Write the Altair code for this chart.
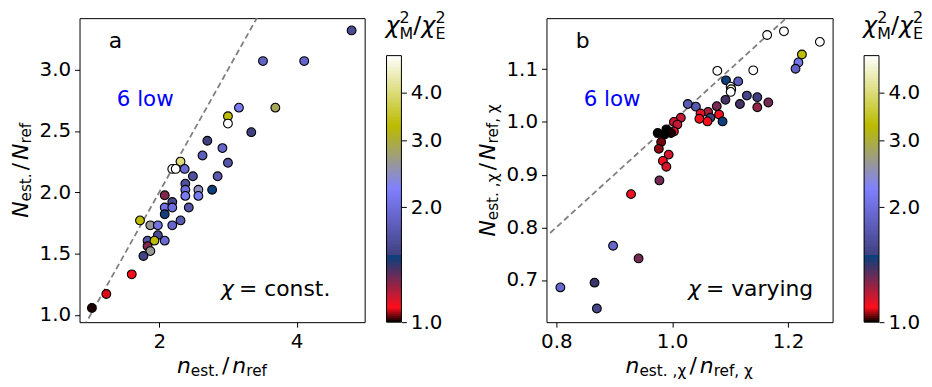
import altair as alt
import pandas as pd
import numpy as np

FONT = "DejaVu Sans"
NB = "\u00a0"

# ---------------- data: panel a ----------------
a_x = [4.80, 3.51, 4.11, 3.16, 3.69, 3.00, 3.00, 3.34, 2.70, 2.92, 2.63, 3.00, 2.31, 2.19, 2.24,
       2.37, 2.49, 2.85, 2.38, 2.38, 2.57, 2.77, 2.38, 2.57, 2.08, 2.19, 2.08, 2.19, 2.43, 2.08,
       2.31, 1.72, 1.87, 1.98, 2.19, 1.98, 1.83, 1.93, 2.08, 1.83, 1.87, 1.77, 1.60, 1.23, 1.02]
a_y = [3.32, 3.07, 3.07, 2.69, 2.69, 2.62, 2.56, 2.49, 2.42, 2.36, 2.30, 2.24, 2.25, 2.19, 2.19,
       2.19, 2.13, 2.13, 2.07, 2.02, 2.02, 2.02, 1.97, 1.97, 1.975, 1.92, 1.875, 1.875, 1.875, 1.82,
       1.77, 1.77, 1.73, 1.73, 1.73, 1.65, 1.605, 1.605, 1.605, 1.56, 1.52, 1.48, 1.33, 1.17, 1.056]
a_c = [1.6, 1.85, 1.9, 2.15, 2.85, 3.3, 5.0, 1.5, 1.5, 1.9, 1.8, 1.7, 4.0, 5.0, 5.0,
       1.95, 1.65, 1.75, 1.65, 2.0, 2.45, 1.48, 2.15, 2.15, 1.28, 1.58, 2.05, 2.0, 1.7, 1.47,
       1.75, 3.3, 2.6, 2.05, 1.9, 1.6, 1.7, 3.3, 1.95, 1.28, 2.6, 1.52, 1.09, 1.08, 1.01]

# ---------------- data: panel b ----------------
b_x = [1.164, 1.193, 1.255, 1.224, 1.218, 1.213, 1.078, 1.140, 1.093, 1.114,
       1.101, 1.102, 1.101, 1.129, 1.147, 1.092, 1.027, 1.041, 1.117, 1.166,
       1.147, 1.077, 1.062, 1.049, 1.081, 1.066, 1.047, 1.061, 1.087, 1.015,
       1.003, 1.009, 1.003, 0.990, 0.975, 0.998, 0.987, 0.981, 0.977, 0.994,
       0.984, 0.990, 0.978, 0.929, 0.898, 0.942, 0.807, 0.866, 0.870]
b_y = [1.165, 1.172, 1.152, 1.128, 1.113, 1.101, 1.097, 1.098, 1.079, 1.077,
       1.067, 1.062, 1.057, 1.050, 1.047, 1.042, 1.034, 1.029, 1.034, 1.037,
       1.028, 1.030, 1.019, 1.016, 1.014, 1.008, 1.006, 1.001, 1.001, 1.008,
       1.000, 0.995, 0.982, 0.986, 0.979, 0.979, 0.976, 0.962, 0.949, 0.938,
       0.926, 0.915, 0.889, 0.863, 0.765, 0.741, 0.686, 0.695, 0.646]
b_c = [5.0, 5.0, 5.0, 3.3, 2.1, 1.85, 5.0, 5.0, 1.48, 1.8,
       5.0, 4.6, 5.0, 1.55, 1.5, 1.38, 1.75, 1.75, 1.38, 1.3,
       1.25, 1.3, 1.22, 1.12, 1.1, 1.5, 1.09, 1.1, 1.48, 1.18,
       1.15, 1.18, 1.15, 1.0, 1.0, 1.01, 1.0, 1.04, 1.05, 1.15,
       1.1, 1.15, 1.3, 1.12, 1.9, 1.3, 1.9, 1.4, 1.55]

a_xticks = [2, 4]
a_yticks = [1.0, 1.5, 2.0, 2.5, 3.0]
b_xticks = [0.8, 1.0, 1.2]
b_yticks = [0.7, 0.8, 0.9, 1.0, 1.1]
cb_ticks = [1.0, 2.0, 3.0, 4.0]
VMIN, VMAX = 1.0, 5.0

# ---------------- colormap (gist_stern, log norm) ----------------
def gist_stern(t, upper=True):
    if t <= 0.0547:
        r = t / 0.0547
    elif t < 0.25 or (t == 0.25 and not upper):
        r = 1 + (t - 0.0547) / (0.25 - 0.0547) * (0.027 - 1)
    else:
        r = t
    g = t
    if t <= 0.5:
        b = 2 * t
    elif t <= 0.735:
        b = 1 - (t - 0.5) / 0.235
    else:
        b = (t - 0.735) / 0.265
    return "#%02x%02x%02x" % tuple(int(round(255 * min(max(v, 0), 1))) for v in (r, g, b))

BPS = [0.0, 0.0547, 0.2499, 0.25, 0.5, 0.735, 1.0]
cdomain = [VMAX ** t for t in BPS]
crange = [gist_stern(t) for t in BPS]
cscale = alt.Scale(type="log", domain=cdomain, range=crange, interpolate="rgb", clamp=True)

ONE = pd.DataFrame({"k": [0]})

W = {' ': 0.318, NB: 0.318, ',': 0.318, '.': 0.318, '/': 0.337, 'N': 0.748, 'n': 0.634, 'e': 0.615,
     's': 0.521, 't': 0.392, 'r': 0.411, 'f': 0.352, 'χ': 0.59, 'M': 0.863, 'E': 0.632, '2': 0.636}


def seg_w(text, size):
    return sum(W.get(ch, 0.6) for ch in text) * size


def text_layers(segs, x, y, angle=0, center=True, color="black"):
    items = []
    for s in segs:
        if isinstance(s, (int, float)):
            items.append(([], s))
        else:
            adv = max(seg_w(t, sz) for (t, sz, st, dy) in s)
            items.append((s, adv))
    total = sum(a for _, a in items)
    off = -total / 2 if center else 0
    layers = []
    for parts, adv in items:
        for (t, sz, st, dy) in parts:
            layers.append(
                alt.Chart(ONE).mark_text(
                    text=t, font=FONT, fontSize=sz, fontStyle=st, align="left",
                    baseline="alphabetic", dx=off, dy=dy, angle=angle, color=color
                ).encode(x=alt.value(x), y=alt.value(y))
            )
        off += adv
    return layers


M, S, SD = 22, 15.4, 3.5


def panel(xs, ys, cs, xdom, ydom, xticks, yticks, xfmt, dline, label, note, xsub, ysub, w, h):
    df = pd.DataFrame({"x": xs, "y": ys, "c": cs})
    xsc = alt.Scale(domain=xdom, nice=False, zero=False)
    ysc = alt.Scale(domain=ydom, nice=False, zero=False)
    line = alt.Chart(pd.DataFrame({"x": dline, "y": dline})).mark_line(
        clip=True, color="#808080", strokeDash=[6, 3.5], strokeWidth=1.8
    ).encode(
        x=alt.X("x:Q", scale=xsc, axis=alt.Axis(values=xticks, format=xfmt, title=None)),
        y=alt.Y("y:Q", scale=ysc, axis=alt.Axis(values=yticks, format=".1f", title=None)),
    )
    pts = alt.Chart(df).mark_circle(size=78, stroke="black", strokeWidth=1.1, opacity=1).encode(
        x=alt.X("x:Q", scale=xsc),
        y=alt.Y("y:Q", scale=ysc),
        color=alt.Color("c:Q", scale=cscale, legend=None),
    )
    layers = [line, pts]
    layers += text_layers([[(label, 22, "normal", 0)]], 29.5, 29.7, center=False)
    layers += text_layers([[("6" + NB + "low", 21.5, "normal", 0)]], 37.5, 88.5, center=False, color="blue")
    layers += text_layers([[("χ", 22, "italic", 0)], 5, [("=" + NB + note, 22, "normal", 0)]],
                          142.5, 280, center=False)
    xsegs = [[("n", M, "italic", 0)], [(xsub[0], S, "normal", SD)], 3, [("/", M, "normal", 0)], 3,
             [("n", M, "italic", 0)], [(xsub[1], S, "normal", SD)]]
    layers += text_layers(xsegs, w / 2, 357)
    ysegs = [[("N", M, "italic", 0)], [(ysub[0], S, "normal", SD)], 3, [("/", M, "normal", 0)], 3,
             [("N", M, "italic", 0)], [(ysub[1], S, "normal", SD)]]
    layers += text_layers(ysegs, -52, 153, angle=270)
    return alt.layer(*layers).properties(width=w, height=h)


def colorbar(h):
    n = 135
    t = np.linspace(0, 1, n + 1)
    lo = VMAX ** t[:-1]
    hi = VMAX ** np.minimum(t[1:] + 0.008, 1.0)
    mid = VMAX ** ((t[:-1] + t[1:]) / 2)
    dfc = pd.DataFrame({"lo": lo, "hi": hi, "mid": mid})
    ysc = alt.Scale(type="log", domain=[VMIN, VMAX], range=[h, 37.7], nice=False)
    bars = alt.Chart(dfc).mark_rect().encode(
        x=alt.value(0), x2=alt.value(15),
        y=alt.Y("lo:Q", scale=ysc, axis=alt.Axis(orient="right", values=cb_ticks, format=".1f", title=None)),
        y2="hi:Q",
        color=alt.Color("mid:Q", scale=cscale, legend=None),
    )
    frame = alt.Chart(pd.DataFrame({"lo": [VMIN], "hi": [VMAX]})).mark_rect(
        fillOpacity=0, stroke="black", strokeWidth=1
    ).encode(x=alt.value(0), x2=alt.value(15), y=alt.Y("lo:Q", scale=ysc), y2="hi:Q")
    tsegs = [[("χ", 24, "italic", 0)], [("2", 16, "normal", -10.5), ("M", 16, "normal", 5.5)],
             [("/", 24, "normal", 0)], [("χ", 24, "italic", 0)],
             [("2", 16, "normal", -10.5), ("E", 16, "normal", 5.5)]]
    layers = [bars, frame] + text_layers(tsegs, -1, 15, center=False)
    return alt.layer(*layers).properties(width=15, height=h, view=alt.ViewBackground(stroke="transparent"))


H = 306
pa = panel(a_x, a_y, a_c, [0.84, 4.99], [0.94, 3.42], a_xticks, a_yticks, "d", [0.5, 5.5],
           "a", "const.", ("est.", "ref"), ("est.", "ref"), 287, H)
pb = panel(b_x, b_y, b_c, [0.783, 1.277], [0.620, 1.197], b_xticks, b_yticks, ".1f", [0.5, 1.5],
           "b", "varying", ("est." + NB + ",χ", "ref," + NB + "χ"), ("est." + NB + ",χ", "ref," + NB + "χ"), 288, H)

chart = alt.hconcat(
    alt.hconcat(pa, colorbar(H), spacing=19),
    alt.hconcat(pb, colorbar(H), spacing=28.7),
    spacing=30,
).properties(
    padding={"left": 1, "top": 0, "right": 0, "bottom": 0},
    background="white",
).configure_view(
    stroke="black", strokeWidth=1
).configure_axis(
    labelFont=FONT, labelFontSize=20, labelColor="black", tickColor="black",
    tickSize=5, tickWidth=1, domain=False, grid=False, labelPadding=4,
)

chart.save("out.html", embed_options={"renderer": "svg", "actions": False})
